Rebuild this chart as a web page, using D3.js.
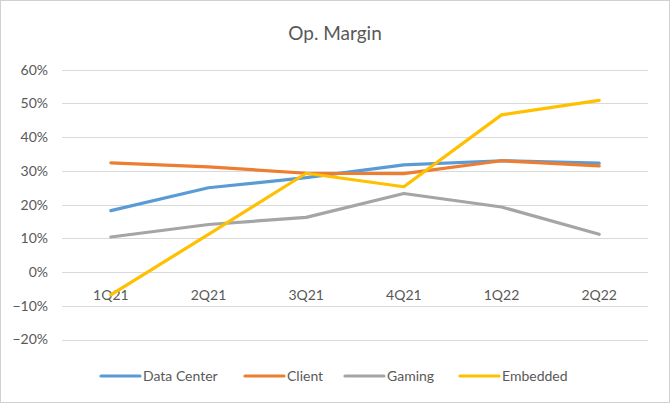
<!DOCTYPE html>
<html>
<head>
<meta charset="utf-8">
<script src="https://cdn.jsdelivr.net/npm/d3@7"></script>
<style>
  html, body { margin: 0; padding: 0; background: #fff; }
  svg { display: block; }
  text { font-family: Lato, "Open Sans", "Noto Sans", sans-serif; }
</style>
</head>
<body>
<svg id="chart" width="670" height="403"></svg>
<script>
const categories = ["1Q21", "2Q21", "3Q21", "4Q21", "1Q22", "2Q22"];
const seriesNames = ["Data Center", "Client", "Gaming", "Embedded"];
const seriesColors = ["#5B9BD5", "#ED7D31", "#A5A5A5", "#FFC000"];
const dataCenter = [0.182, 0.250, 0.280, 0.318, 0.330, 0.323];
const client     = [0.324, 0.312, 0.293, 0.292, 0.330, 0.315];
const gaming     = [0.104, 0.141, 0.162, 0.233, 0.193, 0.112];
const embedded   = [-0.068, 0.112, 0.293, 0.253, 0.466, 0.509];
const yTicks = [-0.2, -0.1, 0, 0.1, 0.2, 0.3, 0.4, 0.5, 0.6];
const title = "Op. Margin";

const seriesValues = [dataCenter, client, gaming, embedded];

const svg = d3.select("#chart");
const W = 670, H = 403;

// outer border
svg.append("rect").attr("x", 0.5).attr("y", 0.5).attr("width", W - 1).attr("height", H - 1)
  .attr("fill", "#fff").attr("stroke", "#d0d0d0");

const x = d3.scaleBand().domain(categories).range([62, 648]);
const y = d3.scaleLinear().domain([-0.2, 0.6]).range([339.5, 69.7]);

// gridlines
svg.append("g").selectAll("line").data(yTicks).join("line")
  .attr("x1", 62).attr("x2", 648)
  .attr("y1", d => Math.round(y(d)) + 0.5).attr("y2", d => Math.round(y(d)) + 0.5)
  .attr("stroke", "#d9d9d9").attr("stroke-width", 1);

// y axis labels
const yAxis = d3.axisLeft(y).tickValues(yTicks).tickFormat(d3.format(".0%")).tickSize(0).tickPadding(0);
const gy = svg.append("g").attr("transform", "translate(48,0)").call(yAxis);
gy.select(".domain").remove();
gy.selectAll("text").attr("fill", "#595959").style("font-size", "14px")
  .style("font-family", "Lato, 'Open Sans', sans-serif");

// x axis labels at zero line
const xAxis = d3.axisBottom(x).tickSize(0).tickPadding(0);
const gx = svg.append("g").attr("transform", `translate(0,${y(0) + 28})`).call(xAxis);
gx.select(".domain").remove();
gx.selectAll("text").attr("fill", "#595959").style("font-size", "14px")
  .style("font-family", "Lato, 'Open Sans', sans-serif").attr("dy", "0");

// lines
const line = d3.line()
  .x((d, i) => x(categories[i]) + x.bandwidth() / 2)
  .y(d => y(d));

svg.append("g").selectAll("path").data(seriesValues).join("path")
  .attr("d", d => line(d))
  .attr("fill", "none")
  .attr("stroke", (d, i) => seriesColors[i])
  .attr("stroke-width", 3.2)
  .attr("stroke-linejoin", "round")
  .attr("stroke-linecap", "round");

// title
svg.append("text").attr("x", 335).attr("y", 40).attr("text-anchor", "middle")
  .attr("fill", "#595959").style("font-size", "19px").text(title);

// legend
const legendX = [101, 245, 345, 460];
const lg = svg.append("g").selectAll("g").data(seriesNames).join("g")
  .attr("transform", (d, i) => `translate(${legendX[i]},376)`);
lg.append("line").attr("x1", 0).attr("x2", 39).attr("y1", 0).attr("y2", 0)
  .attr("stroke", (d, i) => seriesColors[i]).attr("stroke-width", 3.2).attr("stroke-linecap", "round");
lg.append("text").attr("x", 42).attr("y", 5).attr("fill", "#595959")
  .style("font-size", "14px").text(d => d);
</script>
</body>
</html>
